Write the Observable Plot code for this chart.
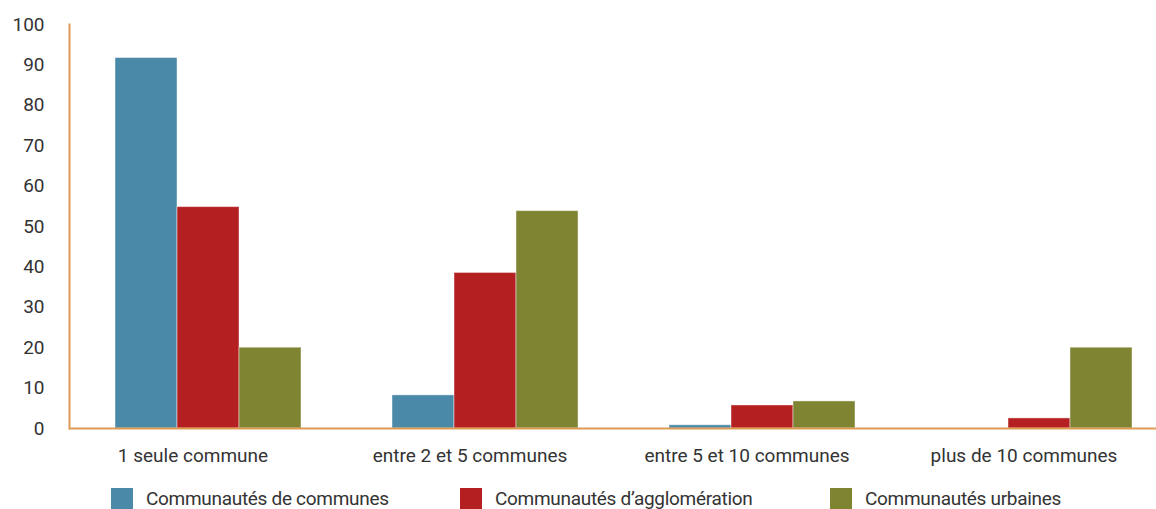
<!DOCTYPE html>
<html><head><meta charset="utf-8">
<script src="https://cdn.jsdelivr.net/npm/d3@7"></script>
<script src="https://cdn.jsdelivr.net/npm/@observablehq/plot@0.6"></script>
<style>
body{margin:0;background:#fff;overflow:hidden;font-family:Roboto,"Liberation Sans",sans-serif;}
#legend{display:grid;grid-template-columns:349px 370px auto;margin-left:111px;margin-top:12px;font-size:19px;color:#333;letter-spacing:-0.3px;}
#legend .item{display:flex;align-items:center;white-space:nowrap;}
#legend .sw{width:22px;height:22px;margin-right:13px;flex:none;}
</style></head><body><div id="chart"></div><div id="legend"></div><script>
const categories = ["1 seule commune","entre 2 et 5 communes","entre 5 et 10 communes","plus de 10 communes"];
const series = ["Communautés de communes","Communautés d’agglomération","Communautés urbaines"];
const communes = [91.7, 8.2, 0.8, 0];
const agglo = [54.8, 38.5, 5.7, 2.5];
const urbaines = [20, 53.8, 6.7, 20];
const colors = ["#4a89a8","#b41f22","#7e8431"];
const yTicks = [0,10,20,30,40,50,60,70,80,90,100];
const orange = "#dd9b55";

const values = [communes, agglo, urbaines];
const data = categories.flatMap((c,i)=>series.map((s,j)=>({cat:c, s, v:values[j][i]})));

const chart = Plot.plot({
  width:1156, height:475,
  marginLeft:68, marginRight:0, marginTop:24, marginBottom:47,
  style:{fontFamily:"Roboto, 'Liberation Sans', sans-serif", fontSize:"19px", color:"#333", background:"#fff"},
  fx:{domain:categories, range:[68,1177], padding:0, label:null},
  x:{domain:series, paddingInner:0, paddingOuter:0.73, axis:null},
  y:{domain:[0,100], label:null},
  color:{domain:series, range:colors},
  marks:[
    Plot.barY(data, {fx:"cat", x:"s", y:"v", fill:"s", stroke:"#fff", strokeOpacity:0.45, strokeWidth:1}),
    Plot.axisY({ticks:yTicks, tickSize:0, tickPadding:25, fontSize:19, fill:"#333", label:null}),
    Plot.axisFx({anchor:"bottom", tickSize:0, tickPadding:20, dx:-15, fontSize:19, fill:"#333", label:null}),
    Plot.ruleY([0], {stroke:orange, strokeWidth:2}),
    Plot.frame({anchor:"left", facetAnchor:"left", stroke:orange, strokeWidth:2})
  ]
});
document.getElementById("chart").appendChild(chart);
const lg = document.getElementById("legend");
series.forEach((s,i)=>{
  const it = document.createElement("div"); it.className="item";
  const sw = document.createElement("span"); sw.className="sw"; sw.style.background=colors[i];
  const t = document.createElement("span"); t.textContent = s;
  it.appendChild(sw); it.appendChild(t); lg.appendChild(it);
});
</script></body></html>
